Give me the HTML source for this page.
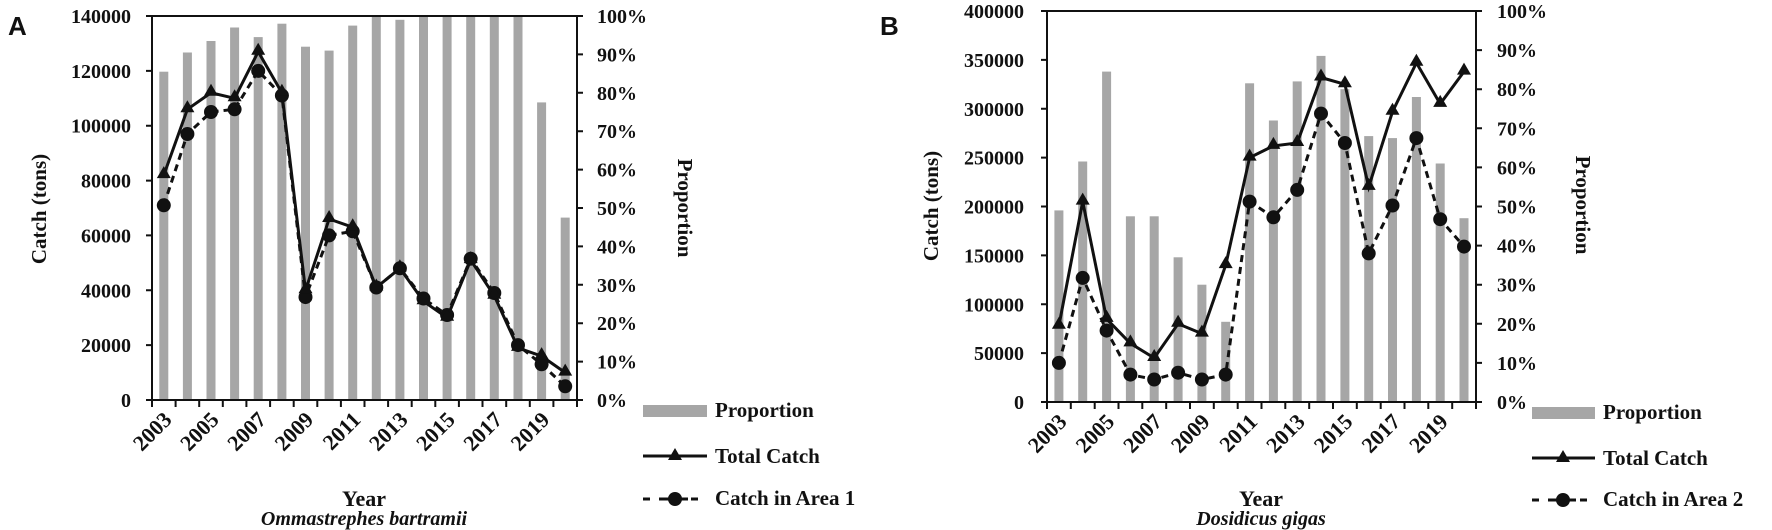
<!DOCTYPE html>
<html><head><meta charset="utf-8"><style>
html,body{margin:0;padding:0;background:#fff;}
svg{display:block;}
text{font-family:"Liberation Serif",serif;font-weight:bold;fill:#111;}
</style></head><body>
<svg width="1772" height="530" viewBox="0 0 1772 530" xmlns="http://www.w3.org/2000/svg">
<text x="8" y="35" style="font-family:'Liberation Sans',sans-serif;font-size:26px;font-weight:bold">A</text>
<text x="880" y="35" style="font-family:'Liberation Sans',sans-serif;font-size:26px;font-weight:bold">B</text>

<!-- ===== Panel A ===== -->
<g fill="#a6a6a6">
<rect x="159.3" y="71.7" width="9" height="328.3"/>
<rect x="182.9" y="52.5" width="9" height="347.5"/>
<rect x="206.5" y="41.0" width="9" height="359"/>
<rect x="230.1" y="27.5" width="9" height="372.5"/>
<rect x="253.7" y="37.1" width="9" height="362.9"/>
<rect x="277.4" y="23.7" width="9" height="376.3"/>
<rect x="301.0" y="46.7" width="9" height="353.3"/>
<rect x="324.6" y="50.6" width="9" height="349.4"/>
<rect x="348.2" y="25.6" width="9" height="374.4"/>
<rect x="371.8" y="16" width="9" height="384"/>
<rect x="395.4" y="19.8" width="9" height="380.2"/>
<rect x="419.0" y="16" width="9" height="384"/>
<rect x="442.6" y="16" width="9" height="384"/>
<rect x="466.2" y="16" width="9" height="384"/>
<rect x="489.8" y="16" width="9" height="384"/>
<rect x="513.5" y="16" width="9" height="384"/>
<rect x="537.1" y="102.4" width="9" height="297.6"/>
<rect x="560.7" y="217.6" width="9" height="182.4"/>
</g>
<g stroke="#111" stroke-width="2" fill="none">
<path d="M152 16H577M152 16V400H577V16"/>
<path d="M146 16H152M146 70.9H152M146 125.7H152M146 180.6H152M146 235.4H152M146 290.3H152M146 345.1H152M146 400H152"/>
<path d="M577 16H583M577 54.4H583M577 92.8H583M577 131.2H583M577 169.6H583M577 208H583M577 246.4H583M577 284.8H583M577 323.2H583M577 361.6H583M577 400H583"/>
<path d="M152 400v7M175.6 400v7M199.2 400v7M222.8 400v7M246.4 400v7M270.1 400v7M293.7 400v7M317.3 400v7M340.9 400v7M364.5 400v7M388.1 400v7M411.7 400v7M435.3 400v7M458.9 400v7M482.5 400v7M506.2 400v7M529.8 400v7M553.4 400v7M577 400v7"/>
</g>
<polyline fill="none" stroke="#111" stroke-width="3" stroke-dasharray="7,5" points="163.8,205.3 187.4,134.0 211.0,112.0 234.6,109.3 258.2,70.9 281.9,95.5 305.5,297.1 329.1,235.4 352.7,231.3 376.3,287.5 399.9,268.3 423.5,298.5 447.1,315.0 470.7,258.7 494.3,293.0 518.0,345.1 541.6,364.3 565.2,386.3"/>
<polyline fill="none" stroke="#111" stroke-width="3" points="163.8,175.1 187.4,109.3 211.0,92.8 234.6,98.3 258.2,51.7 281.9,92.8 305.5,290.3 329.1,219.0 352.7,227.2 376.3,287.5 399.9,268.3 423.5,301.3 447.1,317.7 470.7,260.1 494.3,295.8 518.0,347.9 541.6,356.1 565.2,372.6"/>
<g fill="#111">
<circle cx="163.8" cy="205.3" r="7"/><circle cx="187.4" cy="134.0" r="7"/><circle cx="211.0" cy="112.0" r="7"/><circle cx="234.6" cy="109.3" r="7"/><circle cx="258.2" cy="70.9" r="7"/><circle cx="281.9" cy="95.5" r="7"/><circle cx="305.5" cy="297.1" r="7"/><circle cx="329.1" cy="235.4" r="7"/><circle cx="352.7" cy="231.3" r="7"/><circle cx="376.3" cy="287.5" r="7"/><circle cx="399.9" cy="268.3" r="7"/><circle cx="423.5" cy="298.5" r="7"/><circle cx="447.1" cy="315.0" r="7"/><circle cx="470.7" cy="258.7" r="7"/><circle cx="494.3" cy="293.0" r="7"/><circle cx="518.0" cy="345.1" r="7"/><circle cx="541.6" cy="364.3" r="7"/><circle cx="565.2" cy="386.3" r="7"/>
</g>
<g fill="#111">
<path d="M163.8 166.1l7 12h-14z"/><path d="M187.4 100.3l7 12h-14z"/><path d="M211.0 83.8l7 12h-14z"/><path d="M234.6 89.3l7 12h-14z"/><path d="M258.2 42.7l7 12h-14z"/><path d="M281.9 83.8l7 12h-14z"/><path d="M305.5 281.3l7 12h-14z"/><path d="M329.1 210.0l7 12h-14z"/><path d="M352.7 218.2l7 12h-14z"/><path d="M376.3 278.5l7 12h-14z"/><path d="M399.9 259.3l7 12h-14z"/><path d="M423.5 292.3l7 12h-14z"/><path d="M447.1 308.7l7 12h-14z"/><path d="M470.7 251.1l7 12h-14z"/><path d="M494.3 286.8l7 12h-14z"/><path d="M518.0 338.9l7 12h-14z"/><path d="M541.6 347.1l7 12h-14z"/><path d="M565.2 363.6l7 12h-14z"/>
</g>
<g font-size="20" text-anchor="end">
<text x="131" y="23">140000</text><text x="131" y="77.9">120000</text><text x="131" y="132.7">100000</text><text x="131" y="187.6">80000</text><text x="131" y="242.4">60000</text><text x="131" y="297.3">40000</text><text x="131" y="352.1">20000</text><text x="131" y="407">0</text>
</g>
<g font-size="20">
<text x="597" y="23">100%</text><text x="597" y="61.4">90%</text><text x="597" y="99.8">80%</text><text x="597" y="138.2">70%</text><text x="597" y="176.6">60%</text><text x="597" y="215">50%</text><text x="597" y="253.4">40%</text><text x="597" y="291.8">30%</text><text x="597" y="330.2">20%</text><text x="597" y="368.6">10%</text><text x="597" y="407">0%</text>
</g>
<g font-size="22" text-anchor="end">
<text transform="translate(173,421) rotate(-45)">2003</text>
<text transform="translate(220.2,421) rotate(-45)">2005</text>
<text transform="translate(267.4,421) rotate(-45)">2007</text>
<text transform="translate(314.7,421) rotate(-45)">2009</text>
<text transform="translate(361.9,421) rotate(-45)">2011</text>
<text transform="translate(409.1,421) rotate(-45)">2013</text>
<text transform="translate(456.3,421) rotate(-45)">2015</text>
<text transform="translate(503.5,421) rotate(-45)">2017</text>
<text transform="translate(550.8,421) rotate(-45)">2019</text>
</g>
<text transform="translate(46,209) rotate(-90)" font-size="21" text-anchor="middle">Catch (tons)</text>
<text transform="translate(678,208) rotate(90)" font-size="21" text-anchor="middle">Proportion</text>
<text x="364" y="506" font-size="22" text-anchor="middle">Year</text>
<text x="364" y="525" font-size="20" text-anchor="middle" font-style="italic">Ommastrephes bartramii</text>
<rect x="643" y="405" width="64" height="12" fill="#a6a6a6"/>
<text x="715" y="417" font-size="21">Proportion</text>
<path d="M643 456H707" stroke="#111" stroke-width="3"/><path d="M675 448l7 12h-14z" fill="#111"/>
<text x="715" y="463" font-size="21">Total Catch</text>
<path d="M643 499H707" stroke="#111" stroke-width="3" stroke-dasharray="7,9"/><circle cx="675" cy="499" r="7" fill="#111"/>
<path d="M662 499H688" stroke="#111" stroke-width="3"/>
<text x="715" y="505" font-size="21">Catch in Area 1</text>

<!-- ===== Panel B ===== -->
<g fill="#a6a6a6">
<rect x="1054.4" y="210.4" width="9" height="191.6"/>
<rect x="1078.2" y="161.5" width="9" height="240.5"/>
<rect x="1102.1" y="71.6" width="9" height="330.4"/>
<rect x="1125.9" y="216.3" width="9" height="185.7"/>
<rect x="1149.7" y="216.3" width="9" height="185.7"/>
<rect x="1173.6" y="257.3" width="9" height="144.7"/>
<rect x="1197.4" y="284.7" width="9" height="117.3"/>
<rect x="1221.2" y="321.8" width="9" height="80.2"/>
<rect x="1245.1" y="83.3" width="9" height="318.7"/>
<rect x="1268.9" y="120.5" width="9" height="281.5"/>
<rect x="1292.7" y="81.4" width="9" height="320.6"/>
<rect x="1316.5" y="55.9" width="9" height="346.1"/>
<rect x="1340.4" y="89.2" width="9" height="312.8"/>
<rect x="1364.2" y="136.1" width="9" height="265.9"/>
<rect x="1388.0" y="138.1" width="9" height="263.9"/>
<rect x="1411.9" y="97.0" width="9" height="305"/>
<rect x="1435.7" y="163.5" width="9" height="238.5"/>
<rect x="1459.5" y="218.2" width="9" height="183.8"/>
</g>
<g stroke="#111" stroke-width="2" fill="none">
<path d="M1047 11H1476M1047 11V402H1476V11"/>
<path d="M1041 11H1047M1041 59.9H1047M1041 108.8H1047M1041 157.6H1047M1041 206.5H1047M1041 255.4H1047M1041 304.3H1047M1041 353.1H1047M1041 402H1047"/>
<path d="M1476 11H1482M1476 50.1H1482M1476 89.2H1482M1476 128.3H1482M1476 167.4H1482M1476 206.5H1482M1476 245.6H1482M1476 284.7H1482M1476 323.8H1482M1476 362.9H1482M1476 402H1482"/>
<path d="M1047 402v7M1070.8 402v7M1094.7 402v7M1118.5 402v7M1142.3 402v7M1166.2 402v7M1190 402v7M1213.8 402v7M1237.7 402v7M1261.5 402v7M1285.3 402v7M1309.2 402v7M1333 402v7M1356.8 402v7M1380.7 402v7M1404.5 402v7M1428.3 402v7M1452.2 402v7M1476 402v7"/>
</g>
<polyline fill="none" stroke="#111" stroke-width="3" stroke-dasharray="7,5" points="1058.9,362.9 1082.7,277.9 1106.6,330.6 1130.4,374.6 1154.2,379.5 1178.1,372.7 1201.9,379.5 1225.7,374.6 1249.6,201.6 1273.4,217.3 1297.2,189.9 1321.0,113.6 1344.9,143.0 1368.7,253.4 1392.5,205.5 1416.4,138.1 1440.2,219.2 1464.0,246.6"/>
<polyline fill="none" stroke="#111" stroke-width="3" points="1058.9,325.8 1082.7,201.6 1106.6,318.9 1130.4,343.4 1154.2,358.0 1178.1,323.8 1201.9,333.6 1225.7,265.1 1249.6,157.6 1273.4,145.9 1297.2,143.0 1321.0,77.5 1344.9,84.3 1368.7,186.9 1392.5,111.7 1416.4,62.8 1440.2,103.9 1464.0,71.6"/>
<g fill="#111">
<circle cx="1058.9" cy="362.9" r="7"/><circle cx="1082.7" cy="277.9" r="7"/><circle cx="1106.6" cy="330.6" r="7"/><circle cx="1130.4" cy="374.6" r="7"/><circle cx="1154.2" cy="379.5" r="7"/><circle cx="1178.1" cy="372.7" r="7"/><circle cx="1201.9" cy="379.5" r="7"/><circle cx="1225.7" cy="374.6" r="7"/><circle cx="1249.6" cy="201.6" r="7"/><circle cx="1273.4" cy="217.3" r="7"/><circle cx="1297.2" cy="189.9" r="7"/><circle cx="1321.0" cy="113.6" r="7"/><circle cx="1344.9" cy="143.0" r="7"/><circle cx="1368.7" cy="253.4" r="7"/><circle cx="1392.5" cy="205.5" r="7"/><circle cx="1416.4" cy="138.1" r="7"/><circle cx="1440.2" cy="219.2" r="7"/><circle cx="1464.0" cy="246.6" r="7"/>
</g>
<g fill="#111">
<path d="M1058.9 316.8l7 12h-14z"/><path d="M1082.7 192.6l7 12h-14z"/><path d="M1106.6 309.9l7 12h-14z"/><path d="M1130.4 334.4l7 12h-14z"/><path d="M1154.2 349.0l7 12h-14z"/><path d="M1178.1 314.8l7 12h-14z"/><path d="M1201.9 324.6l7 12h-14z"/><path d="M1225.7 256.1l7 12h-14z"/><path d="M1249.6 148.6l7 12h-14z"/><path d="M1273.4 136.9l7 12h-14z"/><path d="M1297.2 134.0l7 12h-14z"/><path d="M1321.0 68.5l7 12h-14z"/><path d="M1344.9 75.3l7 12h-14z"/><path d="M1368.7 177.9l7 12h-14z"/><path d="M1392.5 102.7l7 12h-14z"/><path d="M1416.4 53.8l7 12h-14z"/><path d="M1440.2 94.9l7 12h-14z"/><path d="M1464.0 62.6l7 12h-14z"/>
</g>
<g font-size="20" text-anchor="end">
<text x="1024" y="18">400000</text><text x="1024" y="66.9">350000</text><text x="1024" y="115.8">300000</text><text x="1024" y="164.6">250000</text><text x="1024" y="213.5">200000</text><text x="1024" y="262.4">150000</text><text x="1024" y="311.3">100000</text><text x="1024" y="360.1">50000</text><text x="1024" y="409">0</text>
</g>
<g font-size="20">
<text x="1497" y="18">100%</text><text x="1497" y="57.1">90%</text><text x="1497" y="96.2">80%</text><text x="1497" y="135.3">70%</text><text x="1497" y="174.4">60%</text><text x="1497" y="213.5">50%</text><text x="1497" y="252.6">40%</text><text x="1497" y="291.7">30%</text><text x="1497" y="330.8">20%</text><text x="1497" y="369.9">10%</text><text x="1497" y="409">0%</text>
</g>
<g font-size="22" text-anchor="end">
<text transform="translate(1068,423) rotate(-45)">2003</text>
<text transform="translate(1115.7,423) rotate(-45)">2005</text>
<text transform="translate(1163.3,423) rotate(-45)">2007</text>
<text transform="translate(1211,423) rotate(-45)">2009</text>
<text transform="translate(1258.6,423) rotate(-45)">2011</text>
<text transform="translate(1306.3,423) rotate(-45)">2013</text>
<text transform="translate(1353.9,423) rotate(-45)">2015</text>
<text transform="translate(1401.6,423) rotate(-45)">2017</text>
<text transform="translate(1449.2,423) rotate(-45)">2019</text>
</g>
<text transform="translate(938,206) rotate(-90)" font-size="21" text-anchor="middle">Catch (tons)</text>
<text transform="translate(1576,205) rotate(90)" font-size="21" text-anchor="middle">Proportion</text>
<text x="1261" y="506" font-size="22" text-anchor="middle">Year</text>
<text x="1261" y="525" font-size="20" text-anchor="middle" font-style="italic">Dosidicus gigas</text>
<rect x="1532" y="407" width="63" height="12" fill="#a6a6a6"/>
<text x="1603" y="419" font-size="21">Proportion</text>
<path d="M1532 458H1595" stroke="#111" stroke-width="3"/><path d="M1563 450l7 12h-14z" fill="#111"/>
<text x="1603" y="465" font-size="21">Total Catch</text>
<path d="M1532 500H1595" stroke="#111" stroke-width="3" stroke-dasharray="7,9"/><circle cx="1563" cy="500" r="7" fill="#111"/>
<path d="M1551 500H1576" stroke="#111" stroke-width="3"/>
<text x="1603" y="506" font-size="21">Catch in Area 2</text>
</svg>
</body></html>
